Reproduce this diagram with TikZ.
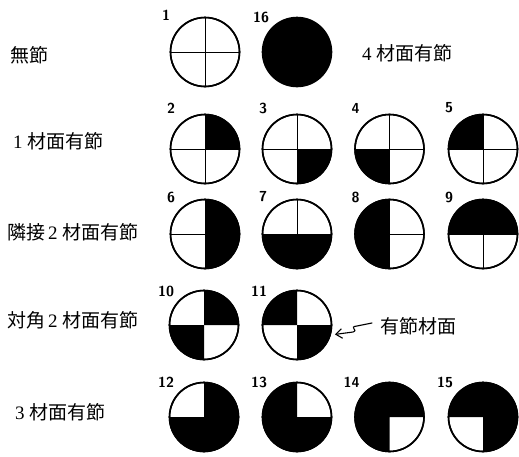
\documentclass[tikz,border=0pt]{standalone}
\usepackage{fontspec}
\setmainfont{Liberation Serif}
\newfontfamily\jpfont{Noto Sans CJK JP}
\usepackage{tikz}
\usetikzlibrary{
  arrows.meta,
  positioning,
  calc
}
\newcommand{\knotrad}{34.5pt}
\newcommand{\dg}[1]{{\rmfamily #1}\hspace{5pt}}
\tikzset{
  knotcircle/.style={circle,draw=black,line width=1.6pt,minimum size=69pt,inner sep=0pt,outer sep=0pt},
  crossline/.style={draw=black,line width=0.9pt},
  numlbl/.style={font=\fontsize{14.5}{14.5}\selectfont\sffamily\bfseries,inner sep=0pt},
  rowlbl/.style={anchor=west,inner sep=0pt,font=\fontsize{19}{19}\selectfont\jpfont},
  knotarrow/.style={-{Straight Barb[length=2.2mm,width=3.4mm]},line width=1.1pt,line cap=round,shorten >=5pt}
}

\begin{document}
\begin{tikzpicture}[x=1pt,y=1pt]
\useasboundingbox[fill=white] (0,0) rectangle (519,-456);

% row labels
\node[rowlbl] (r0) at (10,-55) {無節};
\node[rowlbl] (r16) at (362,-53) {\dg{4}材面有節};
\node[rowlbl] (r1) at (13,-141) {\dg{1}材面有節};
\node[rowlbl] (r2a) at (7,-232) {隣接\hspace{3pt}\dg{2}材面有節};
\node[rowlbl] (r2d) at (7,-320) {対角\hspace{3pt}\dg{2}材面有節};
\node[rowlbl] (r3) at (15,-412) {\dg{3}材面有節};

% circles
\node[knotcircle] (c1) at (205,-52) {};
\node[knotcircle,fill=black] (c16) at (297,-52) {};
\node[knotcircle] (c2) at (205,-149) {};
\node[knotcircle] (c3) at (297,-149) {};
\node[knotcircle] (c4) at (389.5,-149) {};
\node[knotcircle] (c5) at (483,-149) {};
\node[knotcircle] (c6) at (205,-234) {};
\node[knotcircle] (c7) at (297,-234) {};
\node[knotcircle] (c8) at (389.5,-234) {};
\node[knotcircle] (c9) at (483,-234) {};
\node[knotcircle] (c10) at (204,-325) {};
\node[knotcircle] (c11) at (297,-325) {};
\node[knotcircle] (c12) at (204,-417) {};
\node[knotcircle] (c13) at (297,-417) {};
\node[knotcircle] (c14) at (389.5,-417) {};
\node[knotcircle] (c15) at (483,-417) {};

% one face
\fill (c2.center) -- (c2.north) arc[start angle=90,end angle=0,radius=\knotrad] -- cycle;
\fill (c3.center) -- (c3.east) arc[start angle=0,end angle=-90,radius=\knotrad] -- cycle;
\fill (c4.center) -- (c4.south) arc[start angle=270,end angle=180,radius=\knotrad] -- cycle;
\fill (c5.center) -- (c5.west) arc[start angle=180,end angle=90,radius=\knotrad] -- cycle;
% adjacent faces
\fill (c6.north) arc[start angle=90,end angle=-90,radius=\knotrad] -- cycle;
\fill (c7.east) arc[start angle=0,end angle=-180,radius=\knotrad] -- cycle;
\fill (c8.south) arc[start angle=270,end angle=90,radius=\knotrad] -- cycle;
\fill (c9.west) arc[start angle=180,end angle=0,radius=\knotrad] -- cycle;
% opposite faces
\fill (c10.center) -- (c10.north) arc[start angle=90,end angle=0,radius=\knotrad] -- cycle;
\fill (c10.center) -- (c10.south) arc[start angle=270,end angle=180,radius=\knotrad] -- cycle;
\fill (c11.center) -- (c11.west) arc[start angle=180,end angle=90,radius=\knotrad] -- cycle;
\fill (c11.center) -- (c11.east) arc[start angle=0,end angle=-90,radius=\knotrad] -- cycle;
% three faces
\fill (c12.center) -- (c12.north) arc[start angle=90,end angle=-180,radius=\knotrad] -- cycle;
\fill (c13.center) -- (c13.east) arc[start angle=0,end angle=-270,radius=\knotrad] -- cycle;
\fill (c14.center) -- (c14.south) arc[start angle=-90,end angle=-360,radius=\knotrad] -- cycle;
\fill (c15.center) -- (c15.west) arc[start angle=180,end angle=-90,radius=\knotrad] -- cycle;

% face dividers
\draw[crossline] (c1.north) -- (c1.south) (c1.west) -- (c1.east);
\draw[crossline] (c2.north) -- (c2.south) (c2.west) -- (c2.east);
\draw[crossline] (c3.north) -- (c3.south) (c3.west) -- (c3.east);
\draw[crossline] (c4.north) -- (c4.south) (c4.west) -- (c4.east);
\draw[crossline] (c5.north) -- (c5.south) (c5.west) -- (c5.east);
\draw[crossline] (c6.north) -- (c6.south) (c6.west) -- (c6.center);
\draw[crossline] (c7.north) -- (c7.center) (c7.west) -- (c7.east);
\draw[crossline] (c8.north) -- (c8.south) (c8.center) -- (c8.east);
\draw[crossline] (c9.center) -- (c9.south) (c9.west) -- (c9.east);

% outlines on top
\draw[line width=1.6pt] (c1.center) circle[radius=\knotrad];
\foreach \k in {2,...,15} {\draw[line width=1.6pt] (c\k.center) circle[radius=\knotrad];}

% numbers
\node[numlbl] (n1) at ([shift={(-39,37)}]c1.center) {1};
\node[numlbl] (n16) at ([shift={(-36,35)}]c16.center) {16};
\node[numlbl] (n2) at ([shift={(-34,41)}]c2.center) {2};
\node[numlbl] (n3) at ([shift={(-34,41)}]c3.center) {3};
\node[numlbl] (n4) at ([shift={(-34,41)}]c4.center) {4};
\node[numlbl] (n5) at ([shift={(-34,41)}]c5.center) {5};
\node[numlbl] (n6) at ([shift={(-34,37)}]c6.center) {6};
\node[numlbl] (n7) at ([shift={(-34,37)}]c7.center) {7};
\node[numlbl] (n8) at ([shift={(-34,37)}]c8.center) {8};
\node[numlbl] (n9) at ([shift={(-34,37)}]c9.center) {9};
\node[numlbl] (n10) at ([shift={(-38,34)}]c10.center) {10};
\node[numlbl] (n11) at ([shift={(-38,34)}]c11.center) {11};
\node[numlbl] (n12) at ([shift={(-38,35)}]c12.center) {12};
\node[numlbl] (n13) at ([shift={(-38,35)}]c13.center) {13};
\node[numlbl] (n14) at ([shift={(-38,35)}]c14.center) {14};
\node[numlbl] (n15) at ([shift={(-38,35)}]c15.center) {15};

% knot face pointer
\node[rowlbl] (knotlbl) at (380,-326) {有節材面};
\draw[knotarrow] ([xshift=-8pt,yshift=3pt]knotlbl.west) -- ++(-15,-3)
  .. controls +(-9,-1) and +(6,2) .. ++(-4,-6) -- (c11.-17);
\end{tikzpicture}
\end{document}
